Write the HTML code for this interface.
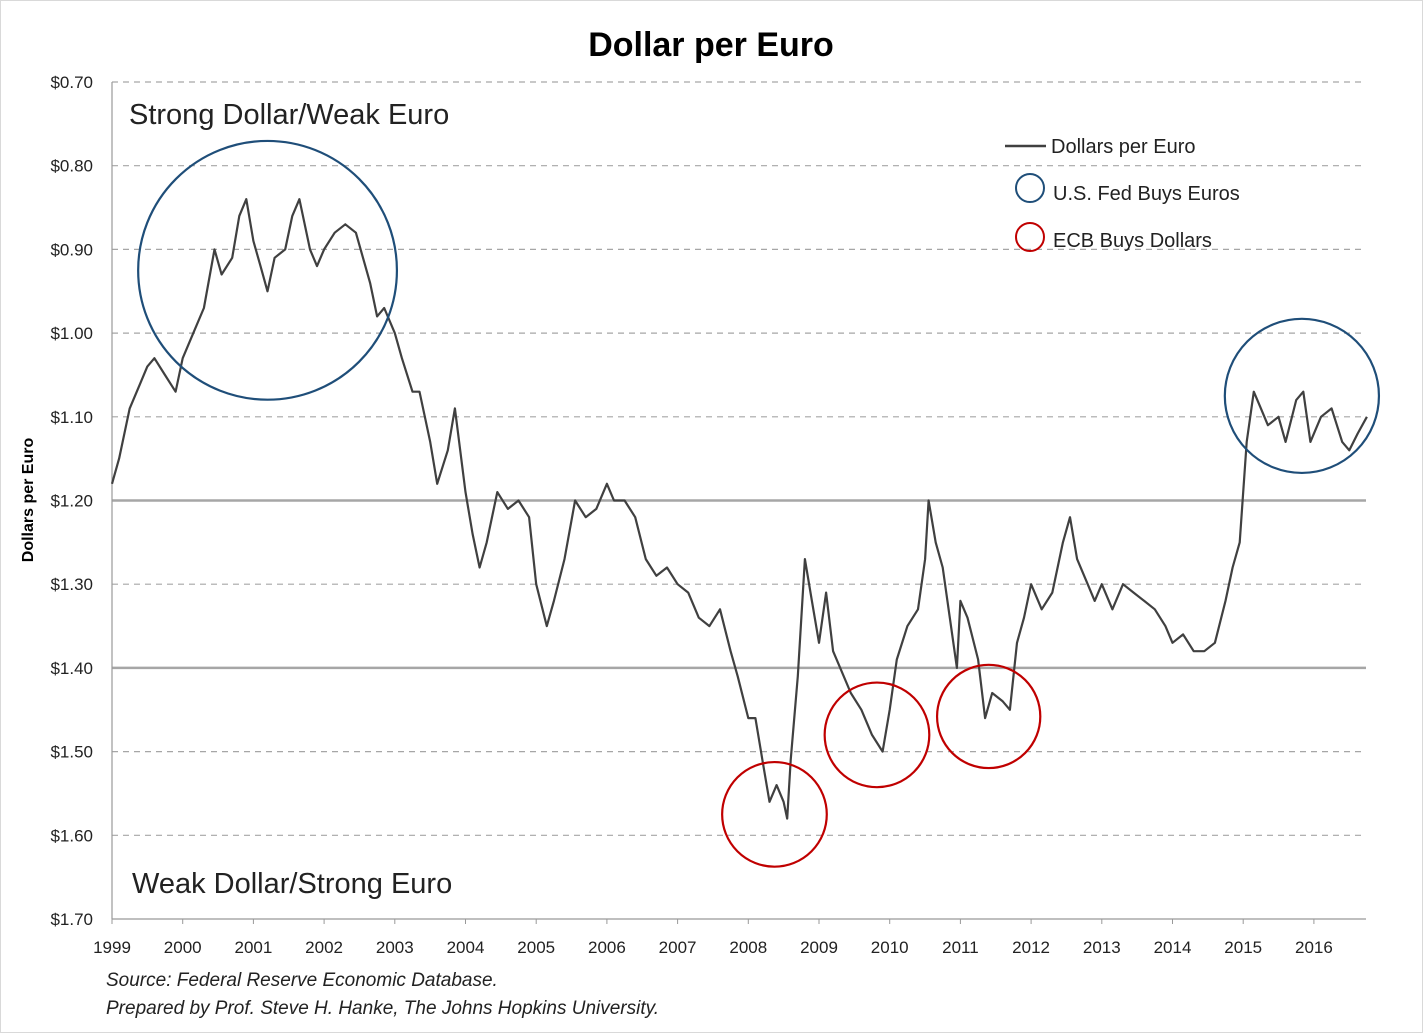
<!DOCTYPE html>
<html><head><meta charset="utf-8">
<style>
html,body{margin:0;padding:0;background:#fff;}
svg{display:block;font-family:"Liberation Sans",Arial,sans-serif;}
</style></head>
<body>
<svg id="chart" width="1423" height="1033" viewBox="0 0 1423 1033">
<rect x="0.5" y="0.5" width="1422" height="1032" fill="#fff" stroke="#d9d9d9"/>
<text x="711" y="56" text-anchor="middle" font-size="34" font-weight="bold" fill="#000">Dollar per Euro</text>
<g id="grid"></g>
<g id="yticks"></g>
<g id="xticks"></g>
<text transform="translate(33,500) rotate(-90)" text-anchor="middle" font-size="16" font-weight="bold">Dollars per Euro</text>
<g id="series"></g>
<g id="circles"></g>
<text x="129" y="124" font-size="29" fill="#222">Strong Dollar/Weak Euro</text>
<text x="132" y="893" font-size="29" fill="#222">Weak Dollar/Strong Euro</text>
<g>
<line x1="1005" y1="146" x2="1046" y2="146" stroke="#404040" stroke-width="2.5"/>
<text x="1051" y="153" font-size="20" fill="#222">Dollars per Euro</text>
<circle cx="1030" cy="188" r="14" fill="none" stroke="#1f4e79" stroke-width="2"/>
<text x="1053" y="200" font-size="20" fill="#222">U.S. Fed Buys Euros</text>
<circle cx="1030" cy="237" r="14" fill="none" stroke="#c00000" stroke-width="2"/>
<text x="1053" y="247" font-size="20" fill="#222">ECB Buys Dollars</text>
</g>
<text x="106" y="986" font-size="19" font-style="italic" fill="#222">Source: Federal Reserve Economic Database.</text>
<text x="106" y="1014" font-size="19" font-style="italic" fill="#222">Prepared by Prof. Steve H. Hanke, The Johns Hopkins University.</text>
</svg>
<script>
const yTicks=[0.70,0.80,0.90,1.00,1.10,1.20,1.30,1.40,1.50,1.60,1.70];
const xYears=[1999,2000,2001,2002,2003,2004,2005,2006,2007,2008,2009,2010,2011,2012,2013,2014,2015,2016];
const times=[1999.0,1999.1,1999.25,1999.4,1999.5,1999.6,1999.75,1999.9,2000.0,2000.15,2000.3,2000.45,2000.55,2000.7,2000.8,2000.9,2001.0,2001.1,2001.2,2001.3,2001.45,2001.55,2001.65,2001.8,2001.9,2002.0,2002.15,2002.3,2002.45,2002.55,2002.65,2002.75,2002.85,2003.0,2003.1,2003.25,2003.35,2003.5,2003.6,2003.75,2003.85,2004.0,2004.1,2004.2,2004.3,2004.45,2004.6,2004.75,2004.9,2005.0,2005.15,2005.25,2005.4,2005.55,2005.7,2005.85,2006.0,2006.1,2006.25,2006.4,2006.55,2006.7,2006.85,2007.0,2007.15,2007.3,2007.45,2007.6,2007.75,2007.85,2008.0,2008.1,2008.2,2008.3,2008.4,2008.5,2008.55,2008.6,2008.7,2008.8,2008.9,2009.0,2009.1,2009.2,2009.3,2009.45,2009.6,2009.75,2009.9,2010.0,2010.1,2010.25,2010.4,2010.5,2010.55,2010.65,2010.75,2010.85,2010.95,2011.0,2011.1,2011.25,2011.35,2011.45,2011.6,2011.7,2011.8,2011.9,2012.0,2012.15,2012.3,2012.45,2012.55,2012.65,2012.8,2012.9,2013.0,2013.15,2013.3,2013.45,2013.6,2013.75,2013.9,2014.0,2014.15,2014.3,2014.45,2014.6,2014.75,2014.85,2014.95,2015.0,2015.05,2015.15,2015.25,2015.35,2015.5,2015.6,2015.75,2015.85,2015.95,2016.1,2016.25,2016.4,2016.5,2016.62,2016.75];
const rates=[1.18,1.15,1.09,1.06,1.04,1.03,1.05,1.07,1.03,1.00,0.97,0.90,0.93,0.91,0.86,0.84,0.89,0.92,0.95,0.91,0.90,0.86,0.84,0.90,0.92,0.90,0.88,0.87,0.88,0.91,0.94,0.98,0.97,1.00,1.03,1.07,1.07,1.13,1.18,1.14,1.09,1.19,1.24,1.28,1.25,1.19,1.21,1.20,1.22,1.30,1.35,1.32,1.27,1.20,1.22,1.21,1.18,1.20,1.20,1.22,1.27,1.29,1.28,1.30,1.31,1.34,1.35,1.33,1.38,1.41,1.46,1.46,1.51,1.56,1.54,1.56,1.58,1.51,1.41,1.27,1.32,1.37,1.31,1.38,1.40,1.43,1.45,1.48,1.50,1.45,1.39,1.35,1.33,1.27,1.20,1.25,1.28,1.34,1.40,1.32,1.34,1.39,1.46,1.43,1.44,1.45,1.37,1.34,1.30,1.33,1.31,1.25,1.22,1.27,1.30,1.32,1.30,1.33,1.30,1.31,1.32,1.33,1.35,1.37,1.36,1.38,1.38,1.37,1.32,1.28,1.25,1.19,1.13,1.07,1.09,1.11,1.10,1.13,1.08,1.07,1.13,1.10,1.09,1.13,1.14,1.12,1.10];
const circleCenters=[[2001.2,0.925,'blue'],[2015.83,1.075,'blue'],[2008.37,1.575,'red'],[2009.82,1.48,'red'],[2011.4,1.458,'red']];
const circleRadiiYears=[1.83,1.09,0.74,0.74,0.73];

const NS='http://www.w3.org/2000/svg';
const X0=112,X1=1366,YT=82,YB=919;
const xs=t=>X0+(t-1999)*70.7;
const ys=v=>YT+(v-0.70)/1.0*(YB-YT);
function mk(tag,attrs,parent){const e=document.createElementNS(NS,tag);for(const k in attrs)e.setAttribute(k,attrs[k]);parent.appendChild(e);return e;}
const grid=document.getElementById('grid'),yt=document.getElementById('yticks'),xt=document.getElementById('xticks');
yTicks.forEach(v=>{
  const y=ys(v);
  const solid=Math.abs(v-1.2)<1e-6||Math.abs(v-1.4)<1e-6;
  if(v<1.69){
    const l=mk('line',{x1:X0,x2:X1,y1:y,y2:y,stroke:'#a6a6a6','stroke-width':solid?2.5:1.2,'stroke-dasharray':solid?'none':'6,5'},grid);
    
    
  }
  const t=mk('text',{x:93,y:y+6,'text-anchor':'end','font-size':17,fill:'#222'},yt);
  t.textContent='$'+v.toFixed(2);
  
  
});
const ax=mk('line',{x1:X0,x2:X0,y1:YT,y2:YB,stroke:'#999','stroke-width':1.2},grid);


const bx=mk('line',{x1:X0,x2:X1,y1:YB,y2:YB,stroke:'#999','stroke-width':1.2},grid);


xYears.forEach(yr=>{
  const x=xs(yr);
  const tk=mk('line',{x1:x,x2:x,y1:YB,y2:YB+5,stroke:'#999'},xt);
  
  
  const t=mk('text',{x:x,y:YB+34,'text-anchor':'middle','font-size':17,fill:'#222'},xt);
  t.textContent=yr;
  
  
});
const pts=times.map((t,i)=>xs(t).toFixed(1)+','+ys(rates[i]).toFixed(1)).join(' ');
const pl=mk('polyline',{points:pts,fill:'none',stroke:'#404040','stroke-width':2.2,'stroke-linejoin':'round'},document.getElementById('series'));


const cg=document.getElementById('circles');
circleCenters.forEach((c,i)=>{
  const r=circleRadiiYears[i]*70.7;
  const el=mk('circle',{cx:xs(c[0]),cy:ys(c[1]),r:r,fill:'none',stroke:c[2]==='blue'?'#1f4e79':'#c00000','stroke-width':2.2},cg);
  
  
});
</script>
</body></html>
